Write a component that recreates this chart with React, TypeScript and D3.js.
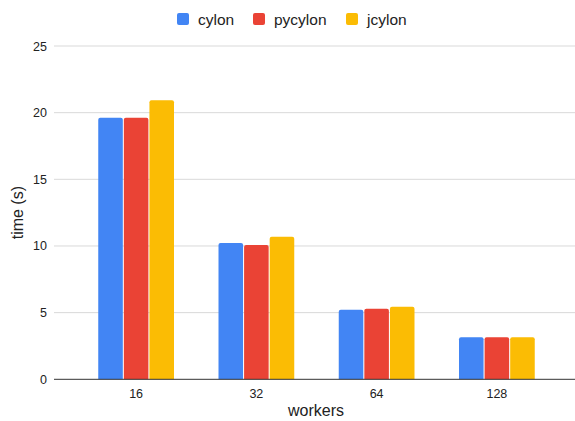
import React from "react";
import * as d3 from "d3";

const categories = ["16", "32", "64", "128"];
const seriesNames = ["cylon", "pycylon", "jcylon"];
const cylon = [19.62, 10.22, 5.22, 3.15];
const pycylon = [19.62, 10.07, 5.3, 3.15];
const jcylon = [20.93, 10.7, 5.45, 3.15];
const yTicks = [0, 5, 10, 15, 20, 25];
const colors = ["#4285F4", "#EA4335", "#FBBC04"];

const W = 575;
const H = 421;
const FONT = "Arial, 'Liberation Sans', sans-serif";

export default function App() {
  const series = [cylon, pycylon, jcylon];
  const plotLeft = 54;
  const plotRight = 575;
  const y = d3.scaleLinear().domain([0, 25]).range([379.3, 46]);
  const x = d3.scaleBand<string>().domain(categories).range([76, 557]).paddingInner(0).paddingOuter(0);
  const groupW = x.bandwidth() * 0.63;
  const xs = d3.scaleBand<string>().domain(seriesNames).range([0, groupW]).paddingInner(0.04);

  const legendItems = [
    { name: "cylon", x: 177 },
    { name: "pycylon", x: 253 },
    { name: "jcylon", x: 346 },
  ];

  return (
    <div style={{ position: "absolute", left: 0, top: 0 }}>
      <svg width={W} height={H} style={{ display: "block", background: "#fff" }}>
        {/* legend */}
        {legendItems.map((it, i) => (
          <g key={it.name}>
            <rect x={it.x} y={13} width={12} height={12} rx={2} fill={colors[i]} />
            <text x={it.x + 21} y={25} fontFamily={FONT} fontSize={15.5} fill="#222">
              {it.name}
            </text>
          </g>
        ))}
        {/* gridlines */}
        {yTicks.map((t) => (
          <g key={t}>
            {t !== 0 && (
              <line x1={plotLeft} x2={plotRight} y1={y(t)} y2={y(t)} stroke="#d9d9d9" strokeWidth={1} />
            )}
            <text x={47} y={y(t) + 4.5} textAnchor="end" fontFamily={FONT} fontSize={12.5} fill="#222">
              {t}
            </text>
          </g>
        ))}
        {/* bars */}
        {categories.map((c, ci) => {
          const gx = (x(c) as number) + (x.bandwidth() - groupW) / 2;
          return (
            <g key={c}>
              {seriesNames.map((s, si) => {
                const v = series[si][ci];
                return (
                  <path
                    key={s}
                    d={(() => {
                      const bx = gx + (xs(s) as number);
                      const bw = xs.bandwidth();
                      const top = y(v);
                      const bottom = y(0);
                      const r = 2;
                      return `M${bx},${bottom}V${top + r}Q${bx},${top} ${bx + r},${top}H${bx + bw - r}Q${bx + bw},${top} ${bx + bw},${top + r}V${bottom}Z`;
                    })()}
                    fill={colors[si]}
                  />
                );
              })}
              <text
                x={(x(c) as number) + x.bandwidth() / 2}
                y={398}
                textAnchor="middle"
                fontFamily={FONT}
                fontSize={12.5}
                fill="#222"
              >
                {c}
              </text>
            </g>
          );
        })}
        {/* zero axis */}
        <line x1={plotLeft} x2={plotRight} y1={y(0)} y2={y(0)} stroke="#333" strokeWidth={1} />
        {/* axis titles */}
        <text x={316} y={416} textAnchor="middle" fontFamily={FONT} fontSize={16} fill="#222">
          workers
        </text>
        <text
          transform={`translate(23,${(y(0) + y(25)) / 2}) rotate(-90)`}
          textAnchor="middle"
          fontFamily={FONT}
          fontSize={16}
          fill="#222"
        >
          time (s)
        </text>
      </svg>
    </div>
  );
}
